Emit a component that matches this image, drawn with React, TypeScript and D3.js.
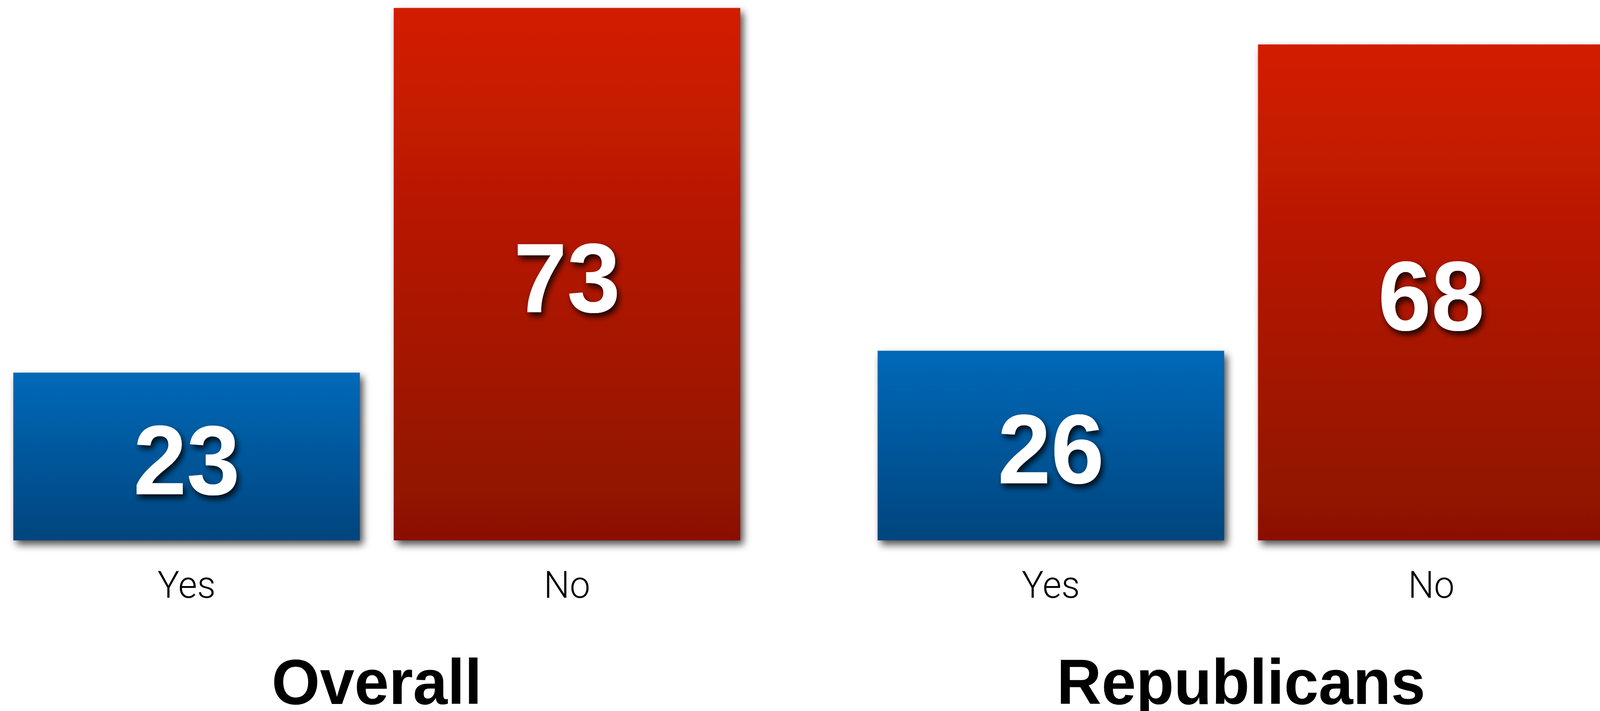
import React, { useEffect } from "react";
import * as d3 from "d3";

const groups = ["Overall", "Republicans"];
const answers = ["Yes", "No"];
const overallValues = [23, 73];
const republicanValues = [26, 68];

const W = 4206;
const H = 1821;

export default function App() {
  useEffect(() => {
    document.body.style.margin = "0";
    document.documentElement.style.overflow = "hidden";
  }, []);

  const series = [overallValues, republicanValues];
  const outer = d3.scaleBand<string>().domain(groups).range([35, 4218]).paddingInner(0.1589);
  const inner = d3.scaleBand<string>().domain(answers).range([0, outer.bandwidth()]).paddingInner(0.089);
  const y = d3.scaleLinear().domain([0, 100]).range([1384, -484]);

  const fills = ["url(#gBlue)", "url(#gRed)"];

  return (
    <svg
      width="100%"
      height={H}
      viewBox={`0 0 ${W} ${H}`}
      preserveAspectRatio="none"
      style={{ display: "block", background: "#fff" }}
    >
      <defs>
        <linearGradient id="gBlue" x1="0" y1="0" x2="0" y2="1">
          <stop offset="0" stopColor="#0069b8" />
          <stop offset="1" stopColor="#02457e" />
        </linearGradient>
        <linearGradient id="gRed" x1="0" y1="0" x2="0" y2="1">
          <stop offset="0" stopColor="#d31d00" />
          <stop offset="1" stopColor="#8b1100" />
        </linearGradient>
        <filter id="barShadow" x="-10%" y="-10%" width="125%" height="125%">
          <feGaussianBlur in="SourceAlpha" stdDeviation="10" />
          <feOffset dx="8" dy="11" result="ob" />
          <feComponentTransfer>
            <feFuncA type="linear" slope="0.7" />
          </feComponentTransfer>
          <feMerge>
            <feMergeNode />
            <feMergeNode in="SourceGraphic" />
          </feMerge>
        </filter>
        <filter id="textShadow" x="-20%" y="-20%" width="150%" height="150%">
          <feGaussianBlur in="SourceAlpha" stdDeviation="8" />
          <feOffset dx="6" dy="10" />
          <feComponentTransfer>
            <feFuncA type="linear" slope="0.85" />
          </feComponentTransfer>
          <feMerge>
            <feMergeNode />
            <feMergeNode in="SourceGraphic" />
          </feMerge>
        </filter>
      </defs>
      {groups.map((g, gi) => {
        const gx = outer(g)!;
        return (
          <g key={g} transform={`translate(${gx},0)`}>
            {answers.map((a, ai) => {
              const v = series[gi][ai];
              const x = inner(a)!;
              const bw = inner.bandwidth();
              const top = y(v);
              const bottom = y(0);
              const cy = (top + bottom) / 2;
              return (
                <g key={a}>
                  <rect x={x} y={top} width={bw} height={bottom - top} fill={fills[ai]} filter="url(#barShadow)" />
                  <text
                    x={x + bw / 2}
                    y={cy + 97}
                    textAnchor="middle"
                    fill="#fff"
                    fontFamily="'Liberation Sans', Arial, Helvetica, sans-serif"
                    fontWeight="bold"
                    fontSize={252}
                    filter="url(#textShadow)"
                  >
                    {v}
                  </text>
                  <text
                    x={x + bw / 2}
                    y={1531}
                    textAnchor="middle"
                    fill="#000"
                    fontFamily="Roboto, 'Liberation Sans', sans-serif"
                    fontWeight={300}
                    fontSize={96}
                  >
                    {a}
                  </text>
                </g>
              );
            })}
            <text
              x={outer.bandwidth() / 2}
              y={1803}
              textAnchor="middle"
              fill="#000"
              fontFamily="'Liberation Sans', Arial, Helvetica, sans-serif"
              fontWeight="bold"
              fontSize={163}
            >
              {g}
            </text>
          </g>
        );
      })}
    </svg>
  );
}
